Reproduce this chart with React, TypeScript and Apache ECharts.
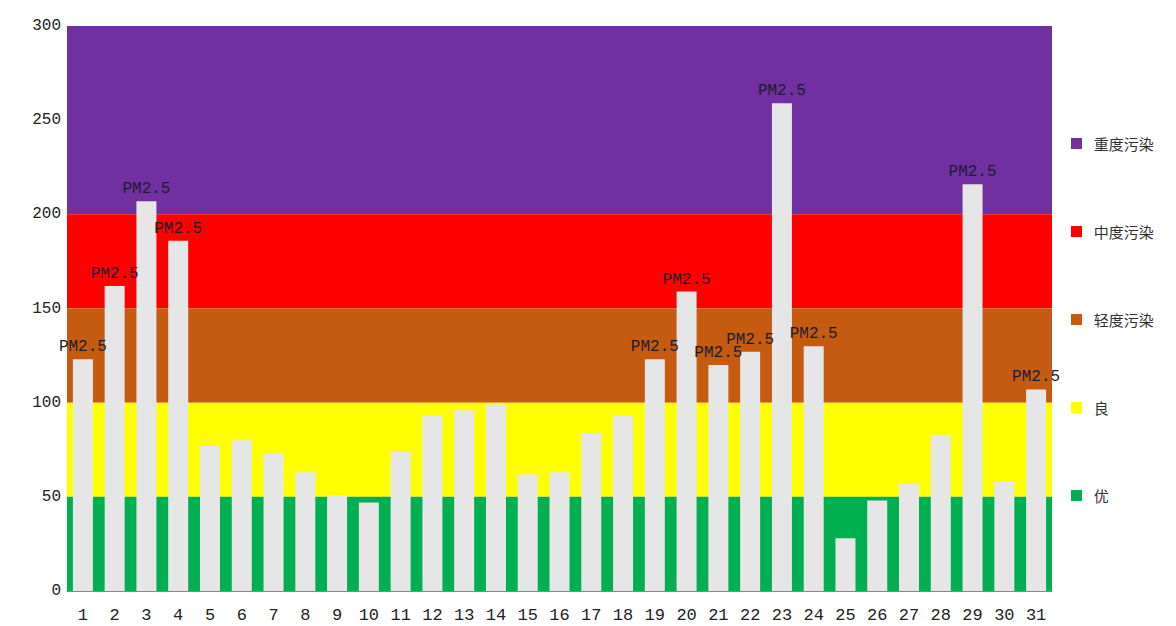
import React, { useEffect, useRef } from "react";
import * as echarts from "echarts";

const days = Array.from({ length: 31 }, (_, i) => String(i + 1));
const pm25 = [123, 162, 207, 186, 77, 80, 73, 63, 51, 47, 74, 93, 96, 99, 62, 63, 84, 93, 123, 159, 120, 127, 259, 130, 28, 48, 57, 83, 216, 58, 107];
const levelNames = ["重度污染", "中度污染", "轻度污染", "良", "优"];
const levelColors = ["#7030A0", "#FF0000", "#C55A11", "#FFFF00", "#00B050"];
const levelRanges: [number, number][] = [[200, 300], [150, 200], [100, 150], [50, 100], [0, 50]];
const yTicks = [0, 50, 100, 150, 200, 250, 300];
const labelThreshold = 100;
const labelText = "PM2.5";

export default function App() {
  const ref = useRef<HTMLDivElement>(null);
  useEffect(() => {
    if (!ref.current) return;
    const chart = echarts.init(ref.current, null, { renderer: "svg" });
    const font = "'Liberation Mono', 'DejaVu Sans Mono', monospace";
    chart.setOption({
      animation: false,
      backgroundColor: "#ffffff",
      grid: { left: 67, right: 124, top: 26, bottom: 35 },
      legend: {
        orient: "vertical",
        left: 1066,
        top: 131,
        itemGap: 73,
        itemWidth: 11,
        itemHeight: 11,
        icon: "rect",
        data: levelNames,
        formatter: (name: string) => "  " + name,
        textStyle: { fontSize: 15, color: "#333", fontFamily: "'Noto Sans CJK SC', sans-serif" },
        selectedMode: false,
      },
      xAxis: {
        type: "category",
        data: days,
        axisTick: { show: false },
        axisLine: { show: true, lineStyle: { color: "#888" } },
        axisLabel: { fontSize: 17, color: "#222", fontFamily: font, margin: 16, interval: 0 },
      },
      yAxis: {
        type: "value",
        min: yTicks[0],
        max: yTicks[yTicks.length - 1],
        interval: 50,
        splitLine: { show: false },
        axisLine: { show: false },
        axisTick: { show: false },
        axisLabel: { fontSize: 16, color: "#222", fontFamily: font, margin: 6 },
      },
      series: [
        ...levelNames.map((name, i) => ({
          name,
          type: "bar",
          data: [],
          itemStyle: { color: levelColors[i] },
        })),
        {
          name: "PM2.5",
          type: "bar",
          data: pm25,
          barWidth: 20,
          barGap: "-100%",
          itemStyle: { color: "#E6E6E6" },
          label: {
            show: true,
            position: "top",
            distance: 4,
            fontFamily: font,
            fontSize: 16,
            color: "#1c1c2e",
            formatter: (p: any) => (p.value > labelThreshold ? labelText : ""),
          },
          markArea: {
            silent: true,
            data: levelRanges.map((r, i) => [
              { yAxis: r[0], itemStyle: { color: levelColors[i], opacity: 1 } },
              { yAxis: r[1] },
            ]),
          },
          z: 5,
        },
      ],
    });
    return () => chart.dispose();
  }, []);
  return <div ref={ref} style={{ position: "fixed", left: 0, top: 0, width: 1176, height: 626 }} />;
}
